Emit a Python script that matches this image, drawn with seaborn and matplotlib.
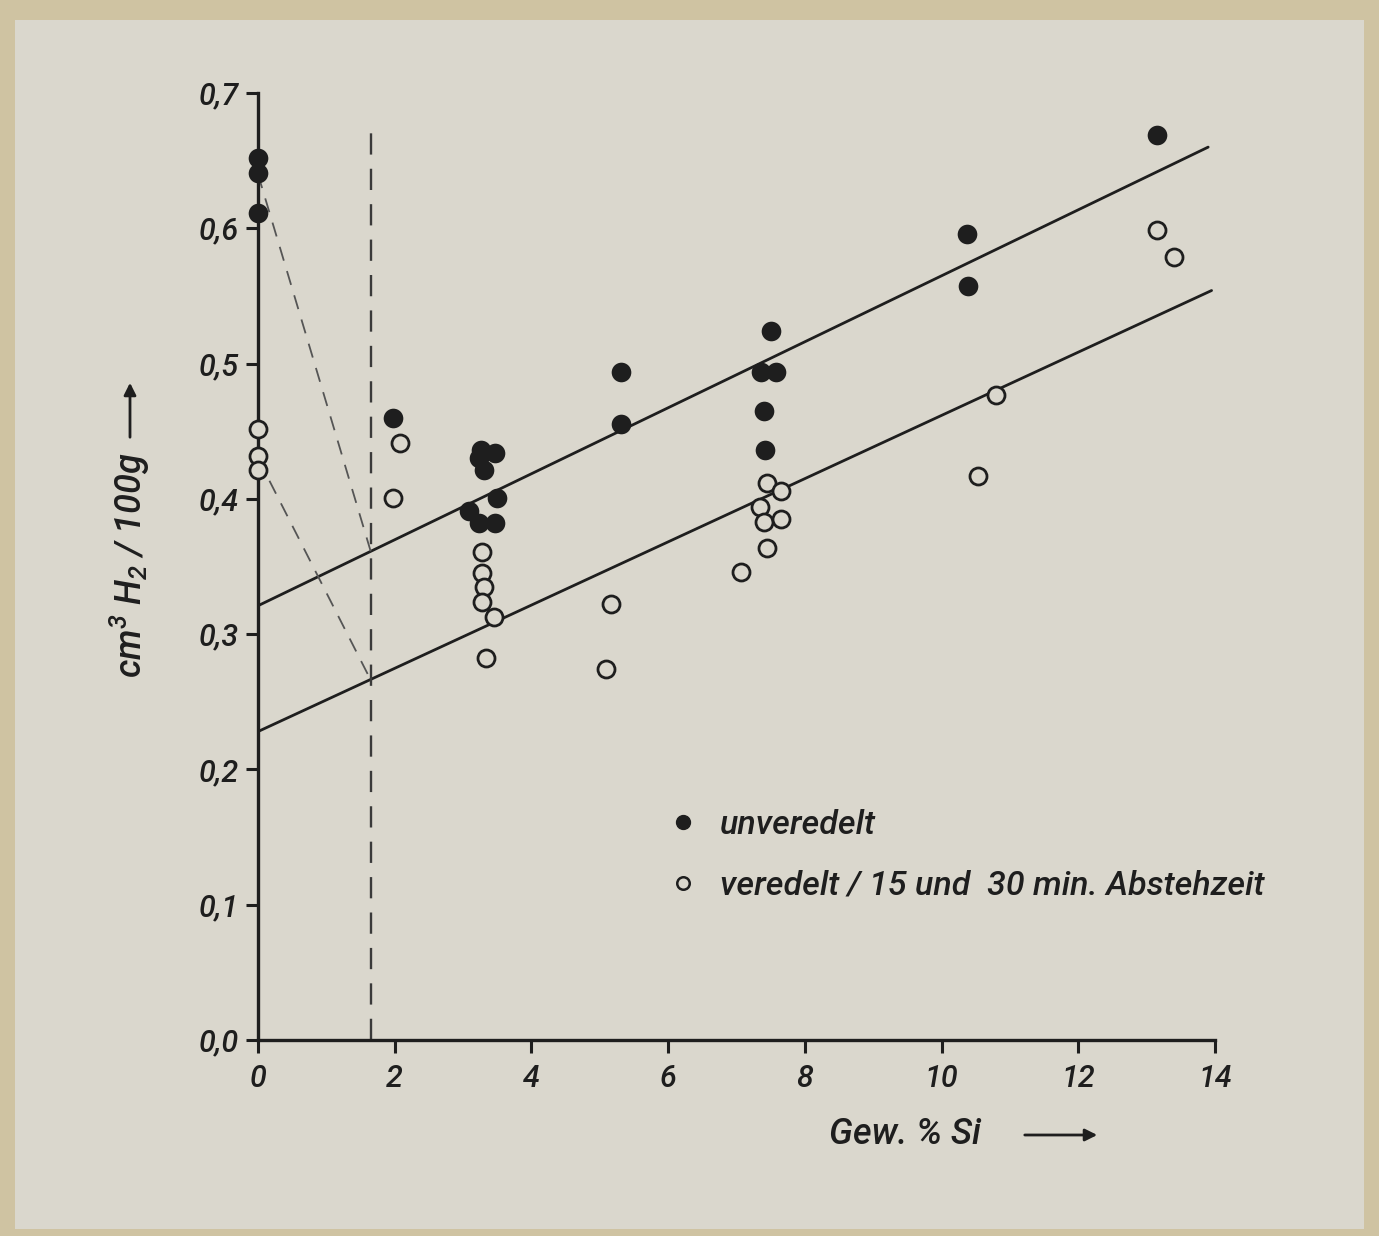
import matplotlib
matplotlib.use("Agg")
import matplotlib.pyplot as plt
import seaborn as sns
import pandas as pd
from matplotlib.patches import Rectangle
from matplotlib.lines import Line2D

# ---- data ----
filled_x = [0.0, 0.0, 0.0, 1.98, 3.26, 3.47, 3.23, 3.30, 3.50, 3.08, 3.23, 3.47,
            5.31, 5.31, 7.50, 7.36, 7.58, 7.40, 7.42, 10.37, 10.38, 13.15]
filled_y = [0.652, 0.641, 0.611, 0.460, 0.436, 0.434, 0.430, 0.421, 0.401, 0.391, 0.382, 0.382,
            0.494, 0.455, 0.524, 0.494, 0.494, 0.465, 0.436, 0.596, 0.557, 0.669]
open_x = [0.0, 0.0, 0.0, 2.08, 1.98, 3.28, 3.28, 3.30, 3.28, 3.45, 3.33, 5.16, 5.09,
          7.45, 7.65, 7.35, 7.40, 7.65, 7.45, 7.07, 10.54, 10.80, 13.15, 13.40]
open_y = [0.452, 0.432, 0.421, 0.441, 0.401, 0.361, 0.345, 0.335, 0.324, 0.313, 0.282, 0.322, 0.274,
          0.412, 0.406, 0.394, 0.383, 0.385, 0.364, 0.346, 0.417, 0.477, 0.599, 0.579]

upper_fit_x = [0.0, 13.9]
upper_fit_y = [0.321, 0.660]
lower_fit_x = [0.0, 13.95]
lower_fit_y = [0.228, 0.554]

vline_x = 1.65
vline_top = 0.675
diag1_x = [0.0, 1.65]
diag1_y = [0.64, 0.361]
diag2_x = [0.0, 1.65]
diag2_y = [0.43, 0.266]

xticks = [0, 2, 4, 6, 8, 10, 12, 14]
xtick_labels = ["0", "2", "4", "6", "8", "10", "12", "14"]
yticks = [0.0, 0.1, 0.2, 0.3, 0.4, 0.5, 0.6, 0.7]
ytick_labels = ["0,0", "0,1", "0,2", "0,3", "0,4", "0,5", "0,6", "0,7"]

label_filled = "unveredelt"
label_open = "veredelt / 15 und  30 min. Abstehzeit"
xlabel = "Gew. % Si"
ylabel = r"cm$^3$ H$_2$ / 100g"

# ---- style ----
sns.set_theme(style="white")
plt.rcParams['font.family'] = ['Roboto', 'DejaVu Sans']
plt.rcParams['font.style'] = 'italic'
plt.rcParams['font.weight'] = 'medium'
plt.rcParams['mathtext.fontset'] = 'custom'
plt.rcParams['mathtext.rm'] = 'Roboto:italic:medium'
plt.rcParams['mathtext.it'] = 'Roboto:italic:medium'

ink = "#1e1e1e"
paper = "#dad7cd"
border = "#cfc3a2"

fig = plt.figure(figsize=(13.79, 12.36), dpi=100, facecolor=border)
fig.patches.append(Rectangle((15 / 1379, 0.006), 1 - 30 / 1379, 1 - 0.006 - 20 / 1236,
                             transform=fig.transFigure, facecolor=paper, edgecolor='none', zorder=-5))

ax = fig.add_axes([258 / 1379, 1 - 1040 / 1236, (1215 - 258) / 1379, (1040 - 93) / 1236])
ax.set_facecolor('none')
ax.set_zorder(2)

df_f = pd.DataFrame({"x": filled_x, "y": filled_y})
df_o = pd.DataFrame({"x": open_x, "y": open_y})

# fit lines
ax.plot(upper_fit_x, upper_fit_y, color=ink, lw=2.0, zorder=2)
ax.plot(lower_fit_x, lower_fit_y, color=ink, lw=2.0, zorder=2)
# helper dashed lines
ax.plot([vline_x, vline_x], [0, vline_top], color="#3a3a3a", lw=1.7, ls=(0, (9, 6)), zorder=2)
ax.plot(diag1_x, diag1_y, color="#555555", lw=1.3, ls=(0, (8, 6)), zorder=2)
ax.plot(diag2_x, diag2_y, color="#555555", lw=1.3, ls=(0, (8, 6)), zorder=2)

sns.scatterplot(data=df_f, x="x", y="y", ax=ax, s=200, color=ink, edgecolor=ink,
                linewidth=0, zorder=4, legend=False, clip_on=False)
sns.scatterplot(data=df_o, x="x", y="y", ax=ax, s=150, facecolor=paper, edgecolor=ink,
                linewidth=2.0, zorder=4, legend=False, clip_on=False)

ax.set_xlim(0, 14)
ax.set_ylim(0, 0.7)
ax.set_xticks(xticks)
ax.set_xticklabels(xtick_labels)
ax.set_yticks(yticks)
ax.set_yticklabels(ytick_labels)
for sp in ["top", "right"]:
    ax.spines[sp].set_visible(False)
for sp in ["left", "bottom"]:
    ax.spines[sp].set_color(ink)
    ax.spines[sp].set_linewidth(2.4)
ax.tick_params(axis='both', which='major', bottom=True, left=True, direction='out',
               length=9, width=2.2, color=ink, labelsize=22, labelcolor=ink, pad=5)
ax.tick_params(axis='x', pad=8)
ax.set_xlabel("")
ax.set_ylabel("")

# axis labels with arrows
fig.text(905 / 1379, 1 - 1135 / 1236, xlabel, fontsize=26, color=ink, ha='center', va='center')
ax.annotate("", xy=(1100 / 1379, 1 - 1135 / 1236), xytext=(1022 / 1379, 1 - 1135 / 1236),
            xycoords='figure fraction', textcoords='figure fraction',
            arrowprops=dict(arrowstyle='-|>', color=ink, lw=2.0, mutation_scale=18))
fig.text(130 / 1379, 1 - 565 / 1236, ylabel, fontsize=26, color=ink, ha='center', va='center',
         rotation=90)
ax.annotate("", xy=(130 / 1379, 1 - 380 / 1236), xytext=(130 / 1379, 1 - 440 / 1236),
            xycoords='figure fraction', textcoords='figure fraction',
            arrowprops=dict(arrowstyle='-|>', color=ink, lw=2.0, mutation_scale=18))

# legend
handles = [
    Line2D([], [], ls='none', marker='o', markersize=10, markerfacecolor=ink, markeredgecolor=ink),
    Line2D([], [], ls='none', marker='o', markersize=9, markerfacecolor=paper,
           markeredgecolor=ink, markeredgewidth=1.8),
]
leg = ax.legend(handles, [label_filled, label_open], loc='upper left',
                bbox_to_anchor=((652 - 258) / 957, (1040 - 795) / 947),
                frameon=False, fontsize=24.5, handletextpad=0.6, labelspacing=0.85,
                handlelength=1.0, borderaxespad=0)
for t in leg.get_texts():
    t.set_color(ink)

fig.savefig("out.png", dpi=100, facecolor=fig.get_facecolor())
